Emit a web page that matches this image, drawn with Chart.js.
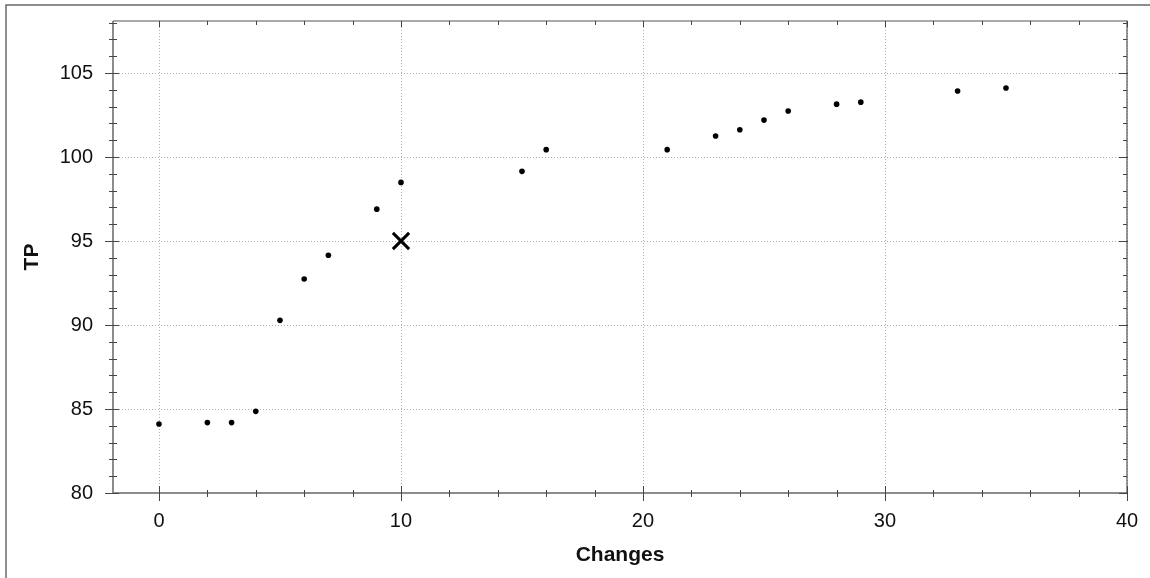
<!DOCTYPE html>
<html>
<head>
<meta charset="utf-8">
<script src="https://cdn.jsdelivr.net/npm/chart.js@4.4.1/dist/chart.umd.min.js"></script>
<style>
  html, body { margin: 0; padding: 0; background: #fff; }
  #wrap { width: 1150px; height: 578px; position: relative; }
</style>
</head>
<body>
<div id="wrap"><canvas id="c" width="1150" height="578"></canvas></div>
<script>
// ---- data ----
const changes = [0, 2, 3, 4, 5, 6, 7, 9, 10, 15, 16, 21, 23, 24, 25, 26, 28, 29, 33, 35];
const tp = [84.11, 84.19, 84.19, 84.86, 90.28, 92.74, 94.15, 96.90, 98.49, 99.15, 100.44, 100.44, 101.25, 101.63, 102.20, 102.74, 103.15, 103.27, 103.93, 104.11];
const markerX = [10];
const markerY = [95];
const xTickLabels = [0, 10, 20, 30, 40];
const yTickLabels = [80, 85, 90, 95, 100, 105];
const xMinorStep = 2;
const yMinorStep = 1;
const xRange = [-1.9, 40];
const yRange = [80, 108.1];

function buildTicks(min, max, step) {
  const out = [];
  for (let v = Math.ceil(min / step) * step; v <= max + 1e-9; v += step) out.push(Math.round(v * 1000) / 1000);
  return out;
}
const xMinor = buildTicks(xRange[0], xRange[1], xMinorStep);
const yMinor = buildTicks(yRange[0], yRange[1], yMinorStep);

function zeroPad(s) { s.paddingTop = 0; s.paddingBottom = 0; s.paddingLeft = 0; s.paddingRight = 0; }

const frameAndTicks = {
  id: 'frameAndTicks',
  beforeDatasetsDraw(chart) {
    const { ctx, chartArea: a, scales } = chart;
    ctx.save();
    ctx.strokeStyle = '#b0b0b0';
    ctx.lineWidth = 1;
    ctx.setLineDash([1, 2]);
    xTickLabels.forEach(v => {
      const px = Math.round(scales.x.getPixelForValue(v)) + 0.5;
      ctx.beginPath(); ctx.moveTo(px, a.top); ctx.lineTo(px, a.bottom); ctx.stroke();
    });
    yTickLabels.forEach(v => {
      const py = Math.round(scales.y.getPixelForValue(v)) + 0.5;
      ctx.beginPath(); ctx.moveTo(a.left, py); ctx.lineTo(a.right, py); ctx.stroke();
    });
    ctx.restore();
  },
  afterDatasetsDraw(chart) {
    const { ctx, chartArea: a, scales } = chart;
    ctx.save();
    ctx.setLineDash([]);
    // outer frame
    ctx.strokeStyle = '#6a6a6a';
    ctx.lineWidth = 1.5;
    ctx.beginPath(); ctx.moveTo(6, 578); ctx.lineTo(6, 5); ctx.lineTo(1150, 5); ctx.stroke();
    // axis box
    ctx.strokeStyle = '#8c8c8c';
    ctx.lineWidth = 2;
    ctx.beginPath(); ctx.moveTo(a.left, a.top); ctx.lineTo(a.left, a.bottom); ctx.lineTo(a.right, a.bottom); ctx.stroke();
    ctx.strokeStyle = '#555';
    ctx.lineWidth = 1.2;
    ctx.beginPath(); ctx.moveTo(a.left, a.top); ctx.lineTo(a.right, a.top); ctx.lineTo(a.right, a.bottom); ctx.stroke();
    // ticks
    ctx.strokeStyle = '#444';
    ctx.lineWidth = 1;
    const L = a.left, R = a.right, T = a.top, B = a.bottom;
    xMinor.forEach(v => {
      const major = xTickLabels.includes(v);
      const px = Math.round(scales.x.getPixelForValue(v)) + 0.5;
      ctx.beginPath();
      if (major) { ctx.moveTo(px, B - 7); ctx.lineTo(px, B + 8); ctx.moveTo(px, T); ctx.lineTo(px, T + 6); }
      else { ctx.moveTo(px, B - 3); ctx.lineTo(px, B + 4); ctx.moveTo(px, T); ctx.lineTo(px, T + 4); }
      ctx.stroke();
    });
    yMinor.forEach(v => {
      const major = yTickLabels.includes(v);
      const py = Math.round(scales.y.getPixelForValue(v)) + 0.5;
      ctx.beginPath();
      if (major) { ctx.moveTo(L - 8, py); ctx.lineTo(L + 6, py); ctx.moveTo(R - 8, py); ctx.lineTo(R + 1, py); }
      else { ctx.moveTo(L - 4, py); ctx.lineTo(L + 4, py); ctx.moveTo(R - 4, py); ctx.lineTo(R, py); }
      ctx.stroke();
    });
    ctx.restore();
  }
};

const tickFont = { family: '"Liberation Sans", Arial, sans-serif', size: 20 };
const titleFont = { family: '"Liberation Sans", Arial, sans-serif', size: 21, weight: 'bold' };

new Chart(document.getElementById('c'), {
  type: 'scatter',
  data: {
    datasets: [
      {
        label: 'TP',
        data: changes.map((x, i) => ({ x: x, y: tp[i] })),
        pointStyle: 'circle',
        pointRadius: 2.8,
        pointBackgroundColor: '#000',
        pointBorderColor: '#000',
        pointBorderWidth: 0
      },
      {
        label: 'Selected',
        data: markerX.map((x, i) => ({ x: x, y: markerY[i] })),
        pointStyle: 'crossRot',
        pointRadius: 11.5,
        pointBorderColor: '#000',
        pointBorderWidth: 3
      }
    ]
  },
  options: {
    responsive: false,
    animation: false,
    devicePixelRatio: 1,
    layout: { padding: { top: 21, right: 23, left: 0, bottom: 0 } },
    plugins: { legend: { display: false }, tooltip: { enabled: false } },
    scales: {
      x: {
        type: 'linear',
        min: xRange[0], max: xRange[1],
        afterBuildTicks: s => { s.ticks = xMinor.map(v => ({ value: v })); },
        afterFit: s => { s.height = 85; zeroPad(s); },
        grid: { display: false, drawTicks: false },
        border: { display: false },
        ticks: {
          autoSkip: false, maxRotation: 0, padding: 16,
          color: '#111', font: tickFont,
          callback: v => xTickLabels.includes(v) ? String(v) : ''
        },
        title: { display: true, text: 'Changes', color: '#111', font: titleFont, padding: { top: 0, bottom: 10 } }
      },
      y: {
        type: 'linear',
        min: yRange[0], max: yRange[1],
        afterBuildTicks: s => { s.ticks = yMinor.map(v => ({ value: v })); },
        afterFit: s => { s.width = 113; zeroPad(s); },
        grid: { display: false, drawTicks: false },
        border: { display: false },
        ticks: {
          autoSkip: false, padding: 20,
          color: '#111', font: tickFont,
          callback: v => yTickLabels.includes(v) ? String(v) : ''
        },
        title: { display: true, text: 'TP', color: '#111', font: titleFont, padding: { top: 20, bottom: 0 } }
      }
    }
  },
  plugins: [frameAndTicks]
});
</script>
</body>
</html>
